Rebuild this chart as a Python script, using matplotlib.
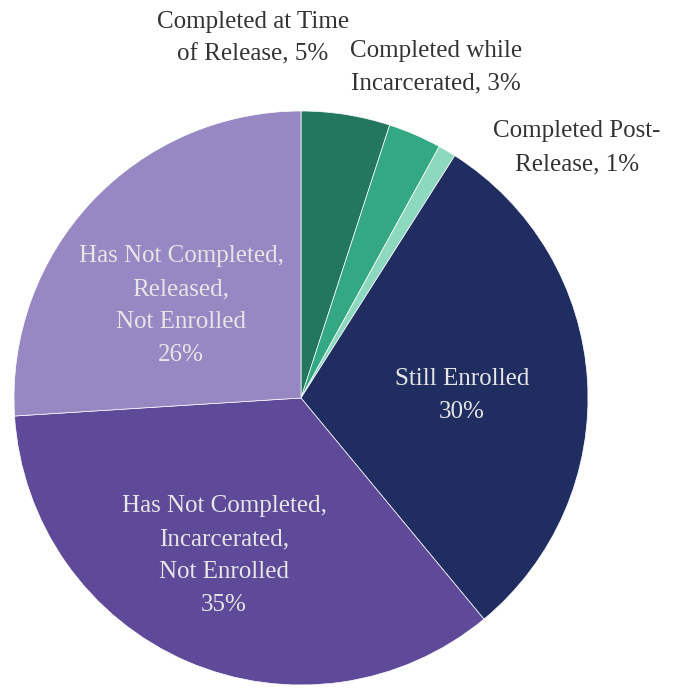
import matplotlib.pyplot as plt

labels = [
    "Completed at Time\nof Release, 5%",
    "Completed while\nIncarcerated, 3%",
    "Completed Post-\nRelease, 1%",
    "Still Enrolled\n30%",
    "Has Not Completed,\nIncarcerated,\nNot Enrolled\n35%",
    "Has Not Completed,\nReleased,\nNot Enrolled\n26%",
]
values = [5, 3, 1, 30, 35, 26]
colors = ["#23775e", "#33a882", "#8dd9bf", "#1f2d60", "#5e4a99", "#9787c2"]

# label positions in pie data units (radius 1)
label_pos = [(-0.167, 1.254), (0.470, 1.153), (0.962, 0.871),
             (0.561, 0.010), (-0.268, -0.550), (-0.418, 0.321)]
inside = [False, False, False, True, True, True]

plt.rcParams["font.family"] = ["Liberation Serif", "DejaVu Serif"]

fig = plt.figure(figsize=(6.82, 6.88), dpi=100)
ax = fig.add_axes([14 / 682, 3 / 688, 574 / 682, 574 / 688])

ax.pie(values, colors=colors, startangle=90, counterclock=False, radius=1,
       wedgeprops=dict(edgecolor="white", linewidth=0.5))

for text, (x, y), ins in zip(labels, label_pos, inside):
    ax.text(x, y, text, ha="center", va="center", fontsize=18,
            linespacing=1.65, color="#e6e6e6" if ins else "#333333")

ax.set_xlim(-1, 1)
ax.set_ylim(-1, 1)
ax.axis("off")

fig.savefig("out.png", dpi=100)
